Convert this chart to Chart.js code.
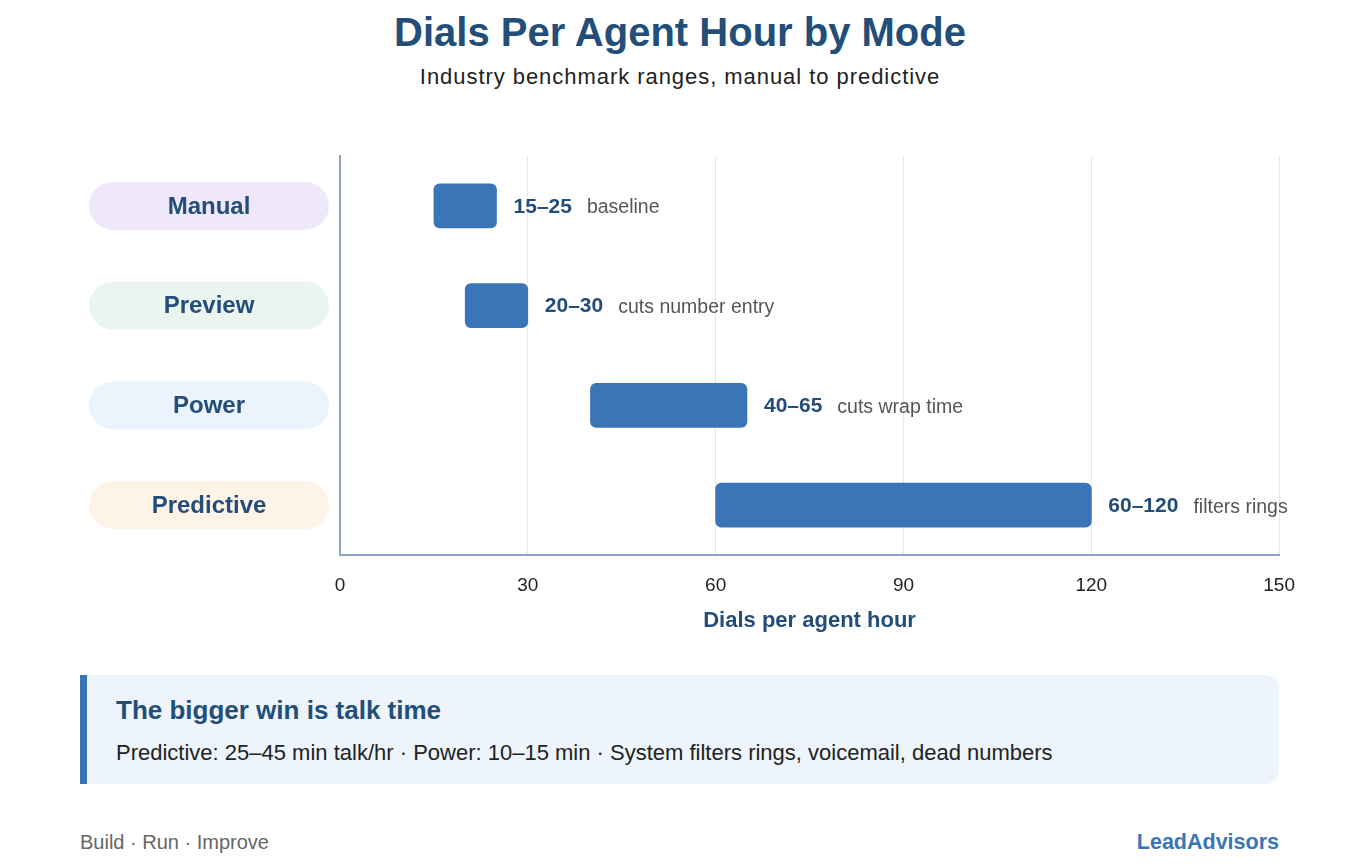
<!DOCTYPE html>
<html>
<head>
<meta charset="utf-8">
<script src="https://cdn.jsdelivr.net/npm/chart.js@4.4.1/dist/chart.umd.min.js"></script>
<style>
  body { margin: 0; background: #fff; font-family: "Liberation Sans", Arial, sans-serif; }
  .page { position: relative; width: 1360px; height: 866px; }
  h1, .sub, .note h2, .note p, .foot-l, .foot-r { line-height: 40px; margin: 0; white-space: nowrap; }
  h1 { position: absolute; top: 12px; left: 0; width: 1360px; text-align: center;
       font-size: 40px; font-weight: bold; color: #234e7a; }
  .sub { position: absolute; top: 57px; left: 0; width: 1360px; text-align: center;
         font-size: 22px; color: #222; letter-spacing: 0.95px; }
  .chart-wrap { position: absolute; left: 80px; top: 140px; width: 1234px; height: 510px; }
  .note { position: absolute; left: 80px; top: 675px; width: 1192px; height: 109px;
          background: #edf4fc; border-left: 7px solid #3a75b8; border-radius: 0 14px 14px 0; }
  .note h2 { position: absolute; left: 29px; top: 15px; font-size: 26px; font-weight: bold; color: #234e7a; }
  .note p { position: absolute; left: 29px; top: 58px; font-size: 22px; color: #222; }
  .foot-l { position: absolute; left: 80px; top: 822px; font-size: 20px; color: #666; }
  .foot-r { position: absolute; right: 81px; top: 822px; font-size: 21.5px; font-weight: bold; color: #3a75b8; }
</style>
</head>
<body>
<div class="page">
  <h1>Dials Per Agent Hour by Mode</h1>
  <div class="sub">Industry benchmark ranges, manual to predictive</div>
  <div class="chart-wrap"><canvas id="myChart"></canvas></div>
  <div class="note">
    <h2>The bigger win is talk time</h2>
    <p>Predictive: 25–45 min talk/hr · Power: 10–15 min · System filters rings, voicemail, dead numbers</p>
  </div>
  <div class="foot-l">Build · Run · Improve</div>
  <div class="foot-r">LeadAdvisors</div>
</div>
<script>
// Data
const modes = ['Manual', 'Preview', 'Power', 'Predictive'];
const lowValues = [15, 20, 40, 60];
const highValues = [25, 30, 65, 120];
const notes = ['baseline', 'cuts number entry', 'cuts wrap time', 'filters rings'];
const pillColors = ['#efe7fa', '#e9f5ee', '#ebf3fc', '#fdf3e6'];
const xTicks = [0, 30, 60, 90, 120, 150];

const FONT = '"Liberation Sans", Arial, sans-serif';
const ranges = modes.map(function(m, i) { return [lowValues[i], highValues[i]]; });

// Rounded pills on the left for each mode
const pillPlugin = {
  id: 'pills',
  beforeDatasetsDraw: function(chart) {
    const ctx = chart.ctx;
    const y = chart.scales.y;
    ctx.save();
    for (var i = 0; i < modes.length; i++) {
      var cy = y.getPixelForValue(i);
      ctx.fillStyle = pillColors[i];
      ctx.beginPath();
      ctx.roundRect(9, cy - 24, 240, 48, 24);
      ctx.fill();
      ctx.fillStyle = '#234e7a';
      ctx.font = 'bold 24px ' + FONT;
      ctx.textAlign = 'center';
      ctx.textBaseline = 'middle';
      ctx.fillText(modes[i], 129, cy + 1);
    }
    ctx.restore();
  }
};

// Range text + note after every bar
const labelPlugin = {
  id: 'barLabels',
  afterDatasetsDraw: function(chart) {
    const ctx = chart.ctx;
    const meta = chart.getDatasetMeta(0);
    ctx.save();
    ctx.textBaseline = 'middle';
    ctx.textAlign = 'left';
    meta.data.forEach(function(bar, i) {
      var x = bar.x + 17;
      var txt = lowValues[i] + '–' + highValues[i];
      ctx.font = 'bold 21px ' + FONT;
      ctx.fillStyle = '#234e7a';
      ctx.fillText(txt, x, bar.y + 1);
      x += ctx.measureText(txt).width + 15;
      ctx.font = '19.5px ' + FONT;
      ctx.fillStyle = '#555';
      ctx.fillText(notes[i], x, bar.y + 2);
    });
    ctx.restore();
  }
};

const config = {
  type: 'bar',
  data: {
    labels: modes,
    datasets: [{
      data: ranges,
      backgroundColor: '#3a75b8',
      borderRadius: 6,
      borderSkipped: false,
      barThickness: 44
    }]
  },
  options: {
    indexAxis: 'y',
    responsive: true,
    maintainAspectRatio: false,
    animation: false,
    layout: { padding: { top: 16, right: 22, bottom: 5, left: 0 } },
    plugins: {
      legend: { display: false },
      tooltip: { enabled: false }
    },
    scales: {
      x: {
        min: 0,
        max: 150,
        afterBuildTicks: function(scale) {
          scale.ticks = xTicks.map(function(v) { return { value: v }; });
        },
        afterFit: function(scale) { scale.height = 90; },
        grid: { color: '#e6e6e6', lineWidth: 1, drawTicks: false },
        border: { display: true, color: '#8fa5bf', width: 2 },
        ticks: {
          padding: 19,
          color: '#222',
          font: { family: FONT, size: 19 }
        },
        title: {
          display: true,
          text: 'Dials per agent hour',
          color: '#234e7a',
          padding: { top: 0, bottom: 11 },
          font: { family: FONT, size: 22, weight: 'bold' }
        }
      },
      y: {
        afterFit: function(scale) { scale.width = 260; },
        grid: { display: false },
        border: { display: true, color: '#8fa5bf', width: 2 },
        ticks: { display: false }
      }
    }
  },
  plugins: [pillPlugin, labelPlugin]
};

const myChart = new Chart(document.getElementById('myChart'), config);
</script>
</body>
</html>
